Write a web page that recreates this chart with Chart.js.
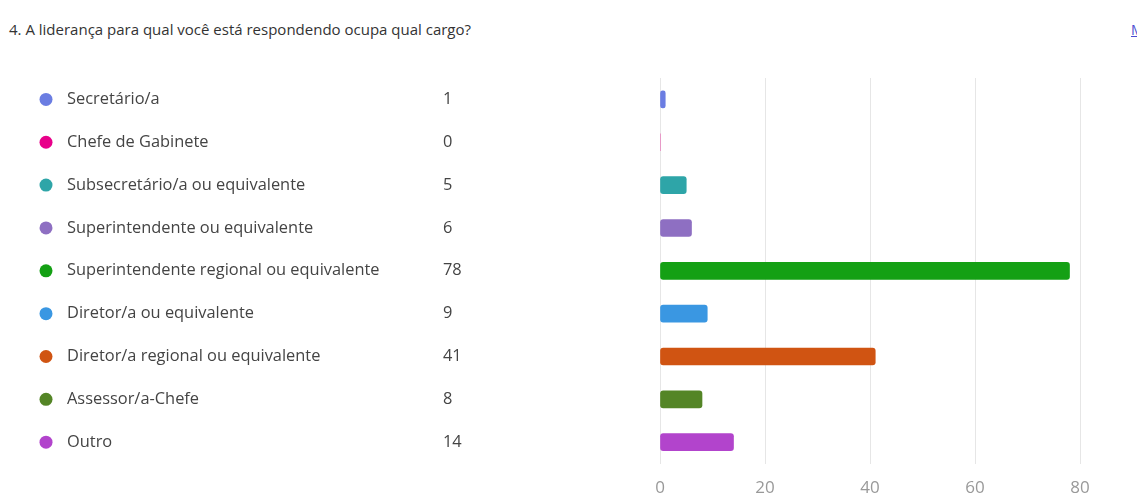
<!DOCTYPE html>
<html>
<head>
<meta charset="utf-8">
<script src="https://cdn.jsdelivr.net/npm/chart.js@4/dist/chart.umd.min.js"></script>
<style>
  html, body { margin: 0; padding: 0; background: #fff; overflow: hidden; }
  .wrap { position: relative; width: 1137px; height: 494px; overflow: hidden; }
  .title { position: absolute; left: 9px; top: 19px; font: 15px "Open Sans", sans-serif; color: #333; white-space: nowrap; }
  .more { position: absolute; left: 1131px; top: 20px; font: 14px "Open Sans", sans-serif; color: #4a4ad0; text-decoration: underline; white-space: nowrap; }
  canvas { position: absolute; left: 0; top: 0; }
</style>
</head>
<body>
<div class="wrap">
  <div class="title">4. A liderança para qual você está respondendo ocupa qual cargo?</div>
  <div class="more">Mais detalhes</div>
  <canvas id="cargoChart" width="1137" height="512"></canvas>
</div>
<script>
// respostas por cargo
const cargos = [
  'Secretário/a',
  'Chefe de Gabinete',
  'Subsecretário/a ou equivalente',
  'Superintendente ou equivalente',
  'Superintendente regional ou equivalente',
  'Diretor/a ou equivalente',
  'Diretor/a regional ou equivalente',
  'Assessor/a-Chefe',
  'Outro'
];
const respostas = [1, 0, 5, 6, 78, 9, 41, 8, 14];
const cores = ['#6b7de2', '#e8008a', '#2ea5a8', '#8e6fc2', '#14a014', '#3a97e2', '#d05412', '#548526', '#b244cc'];
const eixoTicks = [0, 20, 40, 60, 80];

// legenda à esquerda, alinhada com cada barra
const legendaLateral = {
  id: 'legendaLateral',
  afterDraw(chart) {
    const ctx = chart.ctx;
    const y = chart.scales.y;
    ctx.save();
    ctx.font = '16.4px "Open Sans", sans-serif';
    ctx.textBaseline = 'middle';
    cargos.forEach((c, i) => {
      const py = y.getPixelForValue(i);
      ctx.fillStyle = cores[i];
      ctx.beginPath();
      ctx.arc(46, py, 6.5, 0, Math.PI * 2);
      ctx.fill();
      ctx.fillStyle = '#444';
      ctx.textAlign = 'left';
      ctx.fillText(c, 67, py);
      ctx.fillText(String(respostas[i]), 443, py);
    });
    ctx.restore();
  }
};

new Chart(document.getElementById('cargoChart'), {
  type: 'bar',
  data: {
    labels: cargos,
    datasets: [{
      data: respostas,
      backgroundColor: cores,
      borderRadius: 3,
      borderSkipped: false,
      barThickness: 17
    }]
  },
  options: {
    indexAxis: 'y',
    responsive: false,
    animation: false,
    layout: { padding: { left: 660, right: 57, top: 78, bottom: 0 } },
    plugins: { legend: { display: false }, tooltip: { enabled: false } },
    scales: {
      x: {
        min: eixoTicks[0],
        max: eixoTicks[eixoTicks.length - 1],
        afterBuildTicks: (axis) => { axis.ticks = eixoTicks.map(v => ({ value: v })); },
        grid: { color: '#e6e6e6', drawTicks: false },
        border: { display: false },
        ticks: { color: '#999', font: { family: 'Open Sans', size: 17 }, padding: 14 }
      },
      y: {
        display: false
      }
    }
  },
  plugins: [legendaLateral]
});
</script>
</body>
</html>
